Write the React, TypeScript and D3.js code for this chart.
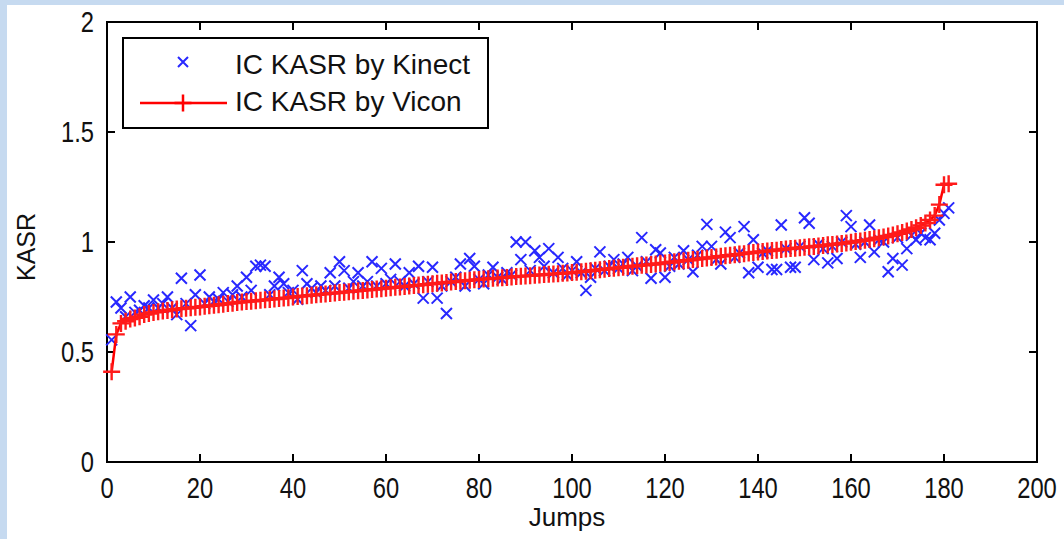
import React, { useEffect, useRef } from 'react';
import * as d3 from 'd3';

// IC KASR by Vicon (sorted), jumps 1..181
const viconKasr: number[] = [
  0.41, 0.58, 0.63, 0.64, 0.65, 0.655, 0.66, 0.67, 0.675, 0.68,
  0.683, 0.686, 0.689, 0.692, 0.695, 0.697, 0.699, 0.701, 0.703, 0.705,
  0.708, 0.71, 0.712, 0.715, 0.717, 0.72, 0.722, 0.725, 0.727, 0.729,
  0.731, 0.733, 0.735, 0.737, 0.739, 0.741, 0.743, 0.745, 0.747, 0.75,
  0.752, 0.754, 0.756, 0.758, 0.76, 0.762, 0.764, 0.766, 0.768, 0.77,
  0.772, 0.774, 0.776, 0.778, 0.78, 0.782, 0.784, 0.786, 0.788, 0.79,
  0.792, 0.794, 0.796, 0.798, 0.8, 0.802, 0.804, 0.806, 0.808, 0.81,
  0.812, 0.814, 0.816, 0.818, 0.82, 0.822, 0.824, 0.826, 0.828, 0.83,
  0.832, 0.833, 0.835, 0.836, 0.838, 0.839, 0.841, 0.843, 0.844, 0.846,
  0.847, 0.849, 0.85, 0.852, 0.853, 0.855, 0.856, 0.858, 0.859, 0.861,
  0.863, 0.865, 0.867, 0.869, 0.872, 0.874, 0.876, 0.879, 0.881, 0.883,
  0.885, 0.888, 0.89, 0.892, 0.894, 0.896, 0.898, 0.9, 0.903, 0.905,
  0.907, 0.91, 0.912, 0.915, 0.917, 0.92, 0.922, 0.925, 0.927, 0.93,
  0.932, 0.935, 0.937, 0.94, 0.942, 0.945, 0.947, 0.95, 0.952, 0.955,
  0.957, 0.959, 0.961, 0.963, 0.966, 0.968, 0.97, 0.972, 0.974, 0.976,
  0.978, 0.98, 0.982, 0.984, 0.987, 0.989, 0.991, 0.993, 0.996, 0.999,
  1.002, 1.005, 1.008, 1.011, 1.015, 1.019, 1.023, 1.027, 1.032, 1.037,
  1.043, 1.05, 1.057, 1.065, 1.075, 1.086, 1.1, 1.12, 1.17, 1.26, 1.265
];

// IC KASR by Kinect, same jumps
const kinectKasr: number[] = [
  0.555, 0.727, 0.70, 0.66, 0.75, 0.68, 0.69, 0.71, 0.70, 0.736,
  0.70, 0.72, 0.75, 0.70, 0.67, 0.835, 0.72, 0.62, 0.76, 0.85,
  0.72, 0.75, 0.73, 0.74, 0.77, 0.73, 0.76, 0.80, 0.75, 0.84,
  0.78, 0.89, 0.895, 0.89, 0.76, 0.80, 0.84, 0.81, 0.77, 0.78,
  0.74, 0.87, 0.81, 0.79, 0.77, 0.80, 0.78, 0.86, 0.80, 0.91,
  0.87, 0.79, 0.82, 0.86, 0.80, 0.82, 0.91, 0.80, 0.88, 0.81,
  0.83, 0.90, 0.82, 0.80, 0.86, 0.81, 0.89, 0.745, 0.82, 0.885,
  0.745, 0.80, 0.675, 0.82, 0.84, 0.90, 0.80, 0.925, 0.89, 0.83,
  0.81, 0.85, 0.885, 0.84, 0.83, 0.86, 0.85, 1.0, 0.92, 1.0,
  0.87, 0.96, 0.93, 0.89, 0.97, 0.86, 0.93, 0.88, 0.85, 0.87,
  0.91, 0.86, 0.78, 0.84, 0.88, 0.955, 0.87, 0.89, 0.92, 0.88,
  0.90, 0.93, 0.87, 0.89, 1.02, 0.91, 0.835, 0.965, 0.95, 0.84,
  0.89, 0.93, 0.90, 0.96, 0.92, 0.865, 0.94, 0.98, 1.08, 0.98,
  0.92, 0.90, 1.045, 1.02, 0.93, 0.95, 1.07, 0.86, 1.01, 0.885,
  0.95, 0.96, 0.875, 0.875, 1.077, 0.97, 0.885, 0.885, 0.98, 1.11,
  1.085, 0.92, 0.99, 0.97, 0.905, 0.98, 0.925, 1.00, 1.12, 1.07,
  0.99, 0.93, 1.00, 1.077, 0.955, 1.01, 1.00, 0.865, 0.925, 1.02,
  0.895, 0.97, 1.03, 1.01, 1.04, 1.02, 1.01, 1.04, 1.10, 1.13, 1.155
];

const xTicks = [0, 20, 40, 60, 80, 100, 120, 140, 160, 180, 200];
const yTicks = [0, 0.5, 1, 1.5, 2];
const legendLabels = ['IC KASR by Kinect', 'IC KASR by Vicon'];

const FONT = 'Liberation Sans, Arial, sans-serif';

const KasrChart = () => {
  const svgRef = useRef<SVGSVGElement>(null);

  useEffect(() => {
    const width = 1064;
    const height = 539;
    const plot = { left: 107, right: 1037, top: 22, bottom: 462 };

    const svg = d3.select(svgRef.current);
    svg.selectAll('*').remove();

    // page background with light blue frame
    svg.append('rect').attr('width', width).attr('height', height).attr('fill', '#c6daf0');
    svg.append('rect').attr('x', 7).attr('y', 5).attr('width', width - 7).attr('height', height - 5).attr('fill', '#ffffff');

    const x = d3.scaleLinear().domain([0, 200]).range([plot.left, plot.right]);
    const y = d3.scaleLinear().domain([0, 2]).range([plot.bottom, plot.top]);

    const data = viconKasr.map((v, i) => ({ jump: i + 1, vicon: v, kinect: kinectKasr[i] }));

    // plot box
    svg.append('rect')
      .attr('x', plot.left).attr('y', plot.top)
      .attr('width', plot.right - plot.left).attr('height', plot.bottom - plot.top)
      .attr('fill', 'white').attr('stroke', 'black').attr('stroke-width', 2);

    const tickLen = 8;
    const ticks = svg.append('g').attr('stroke', 'black').attr('stroke-width', 2);
    xTicks.forEach(t => {
      ticks.append('line').attr('x1', x(t)).attr('x2', x(t)).attr('y1', plot.bottom).attr('y2', plot.bottom - tickLen);
      ticks.append('line').attr('x1', x(t)).attr('x2', x(t)).attr('y1', plot.top).attr('y2', plot.top + tickLen);
    });
    yTicks.forEach(t => {
      ticks.append('line').attr('x1', plot.left).attr('x2', plot.left + tickLen).attr('y1', y(t)).attr('y2', y(t));
      ticks.append('line').attr('x1', plot.right).attr('x2', plot.right - tickLen).attr('y1', y(t)).attr('y2', y(t));
    });

    // tick labels (slightly tall, like the original raster)
    svg.append('g').selectAll('text')
      .data(xTicks).enter().append('text')
      .attr('transform', d => `translate(${x(d)},${plot.bottom + 36}) scale(0.95,1.2)`)
      .attr('text-anchor', 'middle')
      .attr('font-family', FONT).attr('font-size', 25).attr('fill', '#111')
      .text(d => d);

    svg.append('g').selectAll('text')
      .data(yTicks).enter().append('text')
      .attr('transform', d => `translate(${plot.left - 13},${y(d) + 10}) scale(0.95,1.2)`)
      .attr('text-anchor', 'end')
      .attr('font-family', FONT).attr('font-size', 25).attr('fill', '#111')
      .text(d => d);

    // axis titles
    svg.append('text')
      .attr('x', (plot.left + plot.right) / 2 - 5).attr('y', 526)
      .attr('text-anchor', 'middle')
      .attr('font-family', FONT).attr('font-size', 26).attr('fill', '#111')
      .text('Jumps');

    svg.append('text')
      .attr('transform', `translate(35,${(plot.top + plot.bottom) / 2 + 5}) rotate(-90)`)
      .attr('text-anchor', 'middle')
      .attr('font-family', FONT).attr('font-size', 25).attr('fill', '#111')
      .text('KASR');

    const crossPath = (s: number) => `M${-s},${-s}L${s},${s}M${-s},${s}L${s},${-s}`;
    const plusPath = (s: number) => `M${-s},0L${s},0M0,${-s}L0,${s}`;

    // Kinect markers
    svg.append('g')
      .selectAll('path')
      .data(data).enter().append('path')
      .attr('transform', d => `translate(${x(d.jump)},${y(d.kinect)})`)
      .attr('d', crossPath(5.5))
      .attr('fill', 'none')
      .attr('stroke', '#2828ff')
      .attr('stroke-width', 2);

    // Vicon line + markers
    const line = d3.line<{ jump: number; vicon: number }>()
      .x(d => x(d.jump))
      .y(d => y(d.vicon));

    svg.append('path')
      .datum(data)
      .attr('fill', 'none')
      .attr('stroke', '#ff0000')
      .attr('stroke-width', 2.5)
      .attr('d', line);

    svg.append('g')
      .selectAll('path')
      .data(data).enter().append('path')
      .attr('transform', d => `translate(${x(d.jump)},${y(d.vicon)})`)
      .attr('d', plusPath(8.5))
      .attr('fill', 'none')
      .attr('stroke', '#ff1a1a')
      .attr('stroke-width', 2.4);

    // legend
    const legend = svg.append('g');
    legend.append('rect')
      .attr('x', 123).attr('y', 38).attr('width', 365).attr('height', 90)
      .attr('fill', 'white').attr('stroke', 'black').attr('stroke-width', 2);

    legend.append('path')
      .attr('transform', 'translate(183,62)')
      .attr('d', crossPath(5))
      .attr('fill', 'none').attr('stroke', '#2828ff').attr('stroke-width', 2);

    legend.append('line')
      .attr('x1', 140).attr('x2', 227).attr('y1', 103).attr('y2', 103)
      .attr('stroke', '#ff0000').attr('stroke-width', 2.5);
    legend.append('path')
      .attr('transform', 'translate(183,103)')
      .attr('d', plusPath(8.5))
      .attr('fill', 'none').attr('stroke', '#ff0000').attr('stroke-width', 2.5);

    legend.selectAll('text.lbl')
      .data(legendLabels).enter().append('text')
      .attr('class', 'lbl')
      .attr('x', 235)
      .attr('y', (d, i) => 74 + i * 37)
      .attr('font-family', FONT).attr('font-size', 28).attr('fill', '#111')
      .text(d => d);
  }, []);

  return (
    <div style={{ position: 'fixed', left: 0, top: 0, width: 1064, height: 539, background: 'white' }}>
      <svg ref={svgRef} width={1064} height={539} viewBox="0 0 1064 539" style={{ display: 'block' }} />
    </div>
  );
};

export default KasrChart;
